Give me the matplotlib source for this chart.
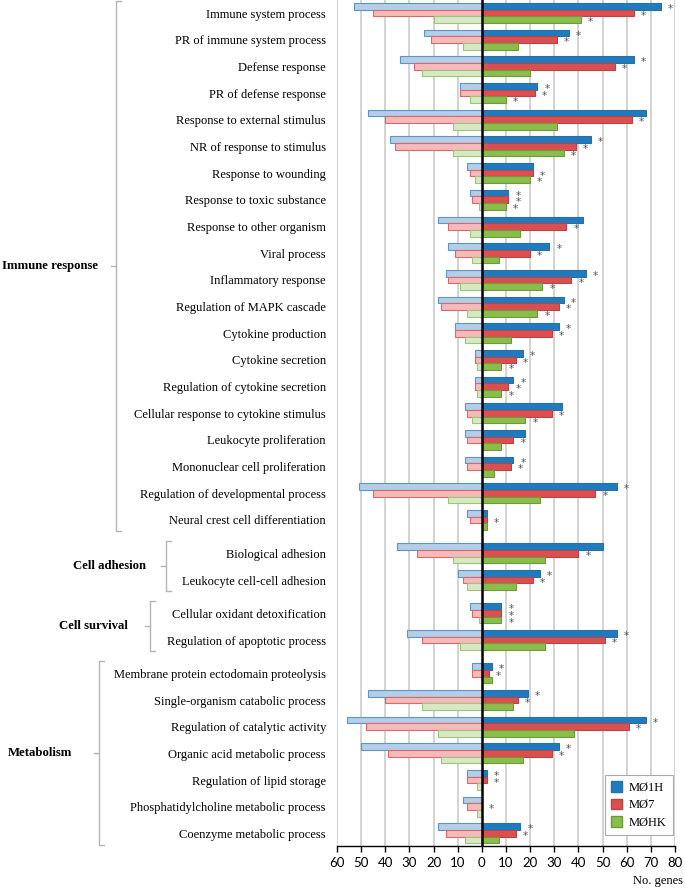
import numpy as np
import matplotlib
matplotlib.use("Agg")
from matplotlib import pyplot as plt
from matplotlib import transforms
from matplotlib.patches import Patch

# GO terms, grouped
immune = ['Immune system process', 'PR of immune system process', 'Defense response',
          'PR of defense response', 'Response to external stimulus', 'NR of response to stimulus',
          'Response to wounding', 'Response to toxic substance', 'Response to other organism',
          'Viral process', 'Inflammatory response', 'Regulation of MAPK cascade',
          'Cytokine production', 'Cytokine secretion', 'Regulation of cytokine secretion',
          'Cellular response to cytokine stimulus', 'Leukocyte proliferation',
          'Mononuclear cell proliferation', 'Regulation of developmental process',
          'Neural crest cell differentiation']
adhesion = ['Biological adhesion', 'Leukocyte cell-cell adhesion']
survival = ['Cellular oxidant detoxification', 'Regulation of apoptotic process']
metabolism = ['Membrane protein ectodomain proteolysis', 'Single-organism catabolic process',
              'Regulation of catalytic activity', 'Organic acid metabolic process',
              'Regulation of lipid storage', 'Phosphatidylcholine metabolic process',
              'Coenzyme metabolic process']
group_names = ['Immune response', 'Cell adhesion', 'Cell survival', 'Metabolism']
groups = [immune, adhesion, survival, metabolism]

# up-regulated genes (right side)
up_1h = [74, 36, 63, 23, 68, 45, 21, 11, 42, 28, 43, 34, 32, 17, 13, 33, 18, 13, 56, 2,
         50, 24, 8, 56, 4, 19, 68, 32, 2, 0, 16]
up_7 = [63, 31, 55, 22, 62, 39, 21, 11, 35, 20, 37, 32, 29, 14, 11, 29, 13, 12, 47, 2,
        40, 21, 8, 51, 3, 15, 61, 29, 2, 0, 14]
up_hk = [41, 15, 20, 10, 31, 34, 20, 10, 16, 7, 25, 23, 12, 8, 8, 18, 8, 5, 24, 2,
         26, 14, 8, 26, 4, 13, 38, 17, 0, 0, 7]
# down-regulated genes (left side)
down_1h = [53, 24, 34, 9, 47, 38, 6, 5, 18, 14, 15, 18, 11, 3, 3, 7, 7, 7, 51, 6,
           35, 10, 5, 31, 4, 47, 56, 50, 6, 8, 18]
down_7 = [45, 21, 28, 9, 40, 36, 5, 4, 14, 11, 14, 17, 11, 3, 3, 6, 6, 6, 45, 5,
          27, 8, 4, 25, 4, 40, 48, 39, 6, 6, 15]
down_hk = [20, 8, 25, 5, 12, 12, 3, 1, 5, 4, 9, 6, 7, 2, 2, 4, 0, 0, 14, 0,
           12, 6, 1, 9, 0, 25, 18, 17, 2, 2, 7]
# significance marks
star_1h = [1, 1, 1, 1, 0, 1, 0, 1, 0, 1, 1, 1, 1, 1, 1, 0, 0, 1, 1, 0,
           0, 1, 1, 1, 1, 1, 1, 1, 1, 0, 1]
star_7 = [1] * 31
star_hk = [1, 0, 0, 1, 0, 1, 1, 1, 0, 0, 1, 1, 0, 1, 1, 1, 0, 0, 0, 0,
           0, 0, 1, 0, 0, 0, 0, 0, 0, 0, 0]

series = ['MØ1H', 'MØ7', 'MØHK']
dark = ['#1F7BC0', '#DB4F4F', '#8BBD4C']
dark_edge = ['#2E6E9E', '#B84545', '#6E9A3A']
light = ['#B4CEE8', '#F6BABA', '#D7E9C4']
light_edge = ['#5E95C4', '#D46A6A', '#9CC47A']

# row positions with a small gap between groups
ypos = []
off = 0.0
for g in groups:
    for k in range(len(g)):
        ypos.append(len(ypos) + off)
    off += 0.25
ypos = np.array(ypos)
labels = [t for g in groups for t in g]

fig = plt.figure(figsize=(6.85, 8.89), dpi=100)
ax = fig.add_axes([337/685, 1 - 846/889, 338/685, 846/889])

h = 0.25
ups = [up_1h, up_7, up_hk]
downs = [down_1h, down_7, down_hk]
stars = [star_1h, star_7, star_hk]
for i in range(3):
    yy = ypos + (i - 1) * h
    ax.barh(yy, ups[i], height=h, color=dark[i], edgecolor=dark_edge[i], linewidth=0.8, zorder=3)
    ax.barh(yy, -np.array(downs[i]), height=h, color=light[i], edgecolor=light_edge[i],
            linewidth=0.8, zorder=3)
    for y, v, s in zip(yy, ups[i], stars[i]):
        if s:
            ax.text(v + 4, y + 0.1, '*', ha='center', va='center', fontsize=7.5,
                    color='#555555', zorder=4)

ax.axvline(0, color='black', linewidth=1.8, zorder=5)
for x in range(-60, 81, 10):
    if x != 0:
        ax.axvline(x, color='#c8c8c8', linewidth=1.1, zorder=1)

ax.set_xlim(-60, 80)
ax.set_ylim(ypos[-1] + 0.47, -0.49)
ax.set_xticks(np.arange(-60, 81, 10))
ax.set_xticklabels([str(abs(x)) for x in range(-60, 81, 10)], fontsize=9.5, family='Lato')
ax.set_yticks(ypos)
ax.set_yticklabels(labels, fontsize=9, family='Liberation Serif')
ax.tick_params(axis='y', length=0, pad=8)
ax.tick_params(axis='x', direction='out', length=4, width=1, pad=4)
for side in ['left', 'top', 'right']:
    ax.spines[side].set_visible(False)
ax.spines['bottom'].set_linewidth(1)
fig.text(683/685, 1 - 881/889, 'No. genes', ha='right', va='center', fontsize=9,
         family='Liberation Serif')

# group brackets
tr = transforms.blended_transform_factory(fig.transFigure, ax.transData)
bx = [116, 166, 150, 99]
lab_right = [98, 146, 128, 72]
start = 0
for gi, g in enumerate(groups):
    top = ypos[start] - 0.47
    bot = ypos[start + len(g) - 1] + 0.42
    mid = (top + bot) / 2
    x0 = bx[gi] / 685
    hook = 5 / 685
    ax.plot([x0 + hook, x0, x0, x0 + hook], [top, top, bot, bot], color='#b5b5b5',
            linewidth=1, transform=tr, clip_on=False)
    ax.plot([x0 - hook, x0], [mid, mid], color='#b5b5b5', linewidth=1, transform=tr,
            clip_on=False)
    ax.text(lab_right[gi] / 685, mid, group_names[gi], ha='right', va='center',
            fontsize=9.2, fontweight='bold', family='Liberation Serif', transform=tr)
    start += len(g)

handles = [Patch(facecolor=dark[i], edgecolor=dark_edge[i]) for i in range(3)]
leg = ax.legend(handles, series, loc='lower left', bbox_to_anchor=(0.785, 0.01),
                prop={'family': 'Liberation Serif', 'size': 9}, fancybox=False,
                edgecolor='#aaaaaa', handlelength=0.9, handleheight=0.9,
                handletextpad=0.5, borderpad=0.5, labelspacing=0.4, framealpha=1,
                borderaxespad=0.2)
leg.get_frame().set_linewidth(0.8)

fig.savefig('out.png', dpi=100)
